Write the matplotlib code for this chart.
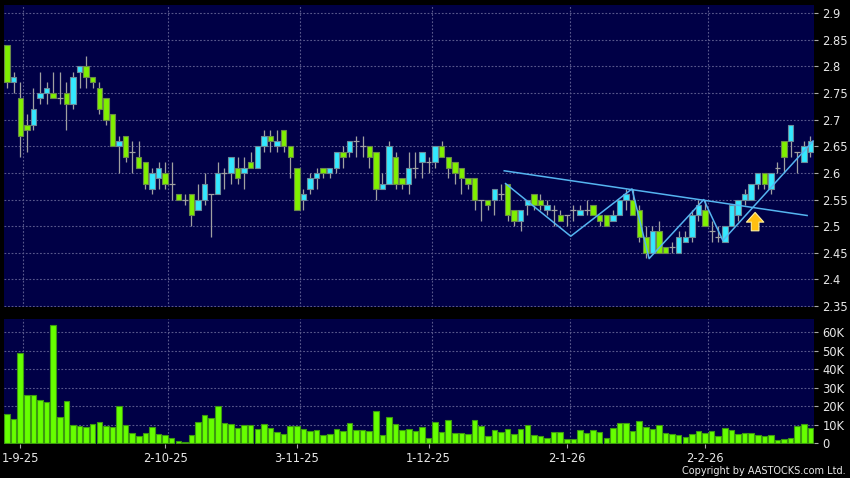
import numpy as np
import matplotlib
matplotlib.use("Agg")
import matplotlib.pyplot as plt

# daily candles, 28 Aug 2025 .. end Feb 2026 (index = trading day)
opens = [2.84, 2.77, 2.74, 2.69, 2.69, 2.74, 2.75, 2.75, 2.74, 2.75,
         2.73, 2.79, 2.80, 2.78, 2.76, 2.74, 2.71, 2.65, 2.67, 2.64,
         2.63, 2.62, 2.57, 2.59, 2.60, 2.58, 2.56, 2.55, 2.56, 2.53,
         2.55, 2.56, 2.56, 2.60, 2.60, 2.61, 2.60, 2.62, 2.61, 2.65,
         2.67, 2.65, 2.68, 2.65, 2.61, 2.55, 2.57, 2.59, 2.61, 2.60,
         2.61, 2.64, 2.64, 2.66, 2.65, 2.65, 2.64, 2.57, 2.58, 2.63,
         2.59, 2.58, 2.61, 2.62, 2.62, 2.62, 2.65, 2.63, 2.62, 2.61,
         2.59, 2.59, 2.55, 2.55, 2.55, 2.56, 2.58, 2.53, 2.51, 2.54,
         2.56, 2.55, 2.53, 2.53, 2.52, 2.52, 2.53, 2.52, 2.53, 2.54,
         2.52, 2.52, 2.51, 2.52, 2.55, 2.55, 2.53, 2.48, 2.45, 2.49,
         2.46, 2.46, 2.45, 2.47, 2.48, 2.52, 2.53, 2.49, 2.48, 2.47,
         2.50, 2.52, 2.55, 2.55, 2.58, 2.60, 2.57, 2.61, 2.66, 2.66,
         2.64, 2.62, 2.64]
highs = [2.84, 2.79, 2.77, 2.71, 2.76, 2.79, 2.77, 2.79, 2.79, 2.77,
         2.79, 2.80, 2.82, 2.78, 2.77, 2.74, 2.71, 2.67, 2.67, 2.66,
         2.66, 2.62, 2.61, 2.62, 2.62, 2.62, 2.56, 2.56, 2.56, 2.58,
         2.60, 2.56, 2.62, 2.61, 2.63, 2.63, 2.63, 2.64, 2.65, 2.68,
         2.68, 2.68, 2.68, 2.65, 2.61, 2.57, 2.60, 2.61, 2.61, 2.61,
         2.64, 2.65, 2.66, 2.67, 2.67, 2.65, 2.64, 2.60, 2.66, 2.64,
         2.59, 2.64, 2.64, 2.64, 2.63, 2.65, 2.66, 2.63, 2.62, 2.61,
         2.59, 2.59, 2.55, 2.55, 2.57, 2.58, 2.58, 2.53, 2.53, 2.55,
         2.56, 2.56, 2.55, 2.54, 2.53, 2.52, 2.54, 2.54, 2.55, 2.54,
         2.52, 2.52, 2.53, 2.55, 2.57, 2.57, 2.54, 2.50, 2.50, 2.51,
         2.46, 2.47, 2.49, 2.49, 2.53, 2.55, 2.55, 2.51, 2.50, 2.50,
         2.54, 2.55, 2.57, 2.58, 2.60, 2.60, 2.60, 2.62, 2.66, 2.69,
         2.64, 2.66, 2.67]
lows = [2.76, 2.75, 2.63, 2.64, 2.68, 2.73, 2.73, 2.74, 2.73, 2.68,
        2.72, 2.76, 2.76, 2.76, 2.71, 2.69, 2.65, 2.60, 2.62, 2.60,
        2.61, 2.57, 2.56, 2.57, 2.57, 2.55, 2.55, 2.54, 2.50, 2.53,
        2.54, 2.48, 2.56, 2.57, 2.58, 2.58, 2.57, 2.61, 2.61, 2.64,
        2.64, 2.64, 2.64, 2.59, 2.53, 2.53, 2.56, 2.57, 2.59, 2.59,
        2.60, 2.61, 2.63, 2.63, 2.63, 2.61, 2.55, 2.57, 2.58, 2.57,
        2.57, 2.56, 2.59, 2.59, 2.60, 2.61, 2.63, 2.59, 2.58, 2.56,
        2.57, 2.53, 2.51, 2.53, 2.52, 2.55, 2.51, 2.50, 2.49, 2.52,
        2.53, 2.53, 2.52, 2.50, 2.51, 2.50, 2.51, 2.52, 2.52, 2.52,
        2.50, 2.50, 2.51, 2.52, 2.53, 2.52, 2.47, 2.44, 2.45, 2.45,
        2.45, 2.45, 2.45, 2.47, 2.47, 2.51, 2.50, 2.47, 2.47, 2.47,
        2.50, 2.51, 2.54, 2.55, 2.57, 2.57, 2.56, 2.60, 2.60, 2.63,
        2.60, 2.62, 2.63]
closes = [2.77, 2.78, 2.67, 2.68, 2.72, 2.75, 2.76, 2.74, 2.74, 2.73,
          2.78, 2.80, 2.78, 2.77, 2.72, 2.70, 2.65, 2.66, 2.63, 2.64,
          2.61, 2.58, 2.60, 2.61, 2.58, 2.58, 2.55, 2.55, 2.52, 2.55,
          2.58, 2.56, 2.60, 2.60, 2.63, 2.59, 2.61, 2.61, 2.65, 2.67,
          2.66, 2.66, 2.65, 2.63, 2.53, 2.56, 2.59, 2.60, 2.60, 2.61,
          2.64, 2.63, 2.66, 2.66, 2.65, 2.63, 2.57, 2.58, 2.65, 2.58,
          2.58, 2.61, 2.61, 2.64, 2.62, 2.65, 2.63, 2.61, 2.60, 2.59,
          2.58, 2.55, 2.55, 2.54, 2.57, 2.56, 2.52, 2.51, 2.53, 2.55,
          2.54, 2.54, 2.54, 2.53, 2.51, 2.52, 2.53, 2.53, 2.53, 2.52,
          2.51, 2.50, 2.52, 2.55, 2.56, 2.52, 2.48, 2.45, 2.49, 2.45,
          2.45, 2.46, 2.48, 2.48, 2.52, 2.54, 2.50, 2.49, 2.48, 2.50,
          2.54, 2.55, 2.56, 2.58, 2.60, 2.58, 2.60, 2.61, 2.63, 2.69,
          2.64, 2.65, 2.66]
volumes_k = [16.0, 13.3, 48.8, 26.1, 26.1, 23.6, 22.2, 64.0, 14.2, 22.7,
             10.1, 9.4, 8.6, 10.5, 11.5, 9.2, 8.8, 20.0, 10.1, 5.8,
             4.0, 5.6, 9.0, 5.0, 4.5, 3.2, 1.3, 0.7, 4.3, 11.4,
             15.3, 13.9, 20.2, 10.8, 10.3, 8.1, 10.1, 9.7, 7.6, 10.5,
             8.1, 6.1, 5.0, 9.5, 9.5, 7.7, 6.7, 7.2, 4.3, 5.0,
             7.9, 6.8, 11.2, 7.4, 7.0, 6.5, 17.3, 4.5, 14.1, 10.3,
             7.2, 7.9, 6.5, 8.8, 2.9, 11.4, 5.9, 12.4, 5.8, 5.6,
             4.9, 12.6, 9.2, 4.0, 7.4, 6.1, 7.7, 5.0, 7.9, 9.9,
             4.3, 3.8, 3.1, 6.1, 6.3, 2.3, 2.2, 7.2, 5.8, 7.0,
             5.9, 3.1, 8.1, 10.8, 10.8, 6.7, 12.3, 8.8, 7.7, 10.1,
             5.6, 5.0, 4.5, 3.4, 5.2, 6.5, 5.6, 6.5, 4.0, 8.1,
             7.0, 5.0, 5.8, 5.6, 4.5, 4.0, 4.7, 1.6, 2.5, 2.7,
             9.2, 10.3, 8.5]

date_idx = [2, 24, 44, 64, 85, 106]
date_labels = ["1-9-25", "2-10-25", "3-11-25", "1-12-25", "2-1-26", "2-2-26"]
price_ticks = [2.35, 2.4, 2.45, 2.5, 2.55, 2.6, 2.65, 2.7, 2.75, 2.8, 2.85, 2.9]
vol_ticks = [0, 10, 20, 30, 40, 50, 60]

# drawn pattern lines (index, price)
neck_x = [75.5, 121.5]
neck_y = [2.604, 2.520]
zig_x = [75.7, 85.6, 94.9, 97.5, 105.8, 108.7, 122.4]
zig_y = [2.58, 2.481, 2.570, 2.439, 2.550, 2.473, 2.66]
arrow_x = 113.6
arrow_y = (2.486, 2.531)

BG = "#000046"
UP = "#33e8ff"
DOWN = "#80f000"
WICK = "#a0a0a0"
GRID = "#58588c"
TXT = "#e8e8e8"
DASH = (0, (1.6, 1.6))

o = np.array(opens)
h = np.array(highs)
l = np.array(lows)
c = np.array(closes)
x = np.arange(len(o))

fig = plt.figure(figsize=(8.5, 4.78), dpi=100, facecolor="black")
ax = fig.add_axes([0.0047, 0.3577, 0.953, 0.6312])
axv = fig.add_axes([0.0047, 0.0711, 0.953, 0.2615])

for a in (ax, axv):
    a.set_facecolor(BG)
    for s in a.spines.values():
        s.set_visible(False)
    a.set_xlim(-0.47, 122.55)
    for i in date_idx:
        a.axvline(i + 0.47, color=GRID, lw=0.8, ls=DASH, zorder=0)
    a.yaxis.tick_right()
    a.tick_params(axis="y", colors=TXT, labelsize=8.3, length=3, width=0.8,
                  pad=3)
    a.tick_params(axis="y", color="#aaaaaa")

# price panel
ax.set_ylim(2.348, 2.915)
ax.set_yticks(price_ticks)
ax.set_yticklabels([f"{t:g}" for t in price_ticks])
for t in price_ticks:
    ax.axhline(t, color=GRID, lw=0.8, ls=DASH, zorder=0)
ax.set_xticks([])

ax.vlines(x, l, h, color=WICK, lw=0.9, zorder=2)
up = c > o
dn = c < o
eq = c == o
ax.bar(x[up], (c - o)[up], bottom=o[up], width=0.82, color=UP,
       edgecolor="#6a8a9a", lw=0.8, zorder=3)
ax.bar(x[dn], (o - c)[dn], bottom=c[dn], width=0.82, color=DOWN,
       edgecolor="#6a8a4a", lw=0.8, zorder=3)
ax.hlines(c[eq], x[eq] - 0.45, x[eq] + 0.45, color=WICK, lw=0.9, zorder=3)

ax.plot(neck_x, neck_y, color="#55b4f0", lw=1.1, zorder=4)
ax.plot(zig_x, zig_y, color="#55b4f0", lw=1.1, zorder=4)
ax.annotate("", xy=(arrow_x, arrow_y[1]), xytext=(arrow_x, arrow_y[0]),
            arrowprops=dict(arrowstyle="simple,head_length=7,head_width=12.5,tail_width=5.5",
                            mutation_scale=1, fc="#ffbf10", ec="#fff2a0",
                            lw=0.8),
            zorder=5)

# volume panel
axv.set_ylim(-0.3, 67)
axv.set_yticks(vol_ticks)
axv.set_yticklabels(["0"] + [f"{t}K" for t in vol_ticks[1:]])
for t in vol_ticks[1:]:
    axv.axhline(t, color=GRID, lw=0.8, ls=DASH, zorder=0)
axv.bar(x, volumes_k, width=0.84, color="#66ff00", edgecolor="#3c9a10",
        lw=0.8, zorder=3)
axv.set_xticks(date_idx)
axv.set_xticklabels(date_labels)
axv.tick_params(axis="x", colors=TXT, labelsize=8.3, length=3, width=0.8,
                pad=3, color="#aaaaaa")

fig.text(0.995, 0.004, "Copyright by AASTOCKS.com Ltd.", color=TXT,
         fontsize=7, ha="right", va="bottom")

fig.savefig("out.png", dpi=100, facecolor="black")
